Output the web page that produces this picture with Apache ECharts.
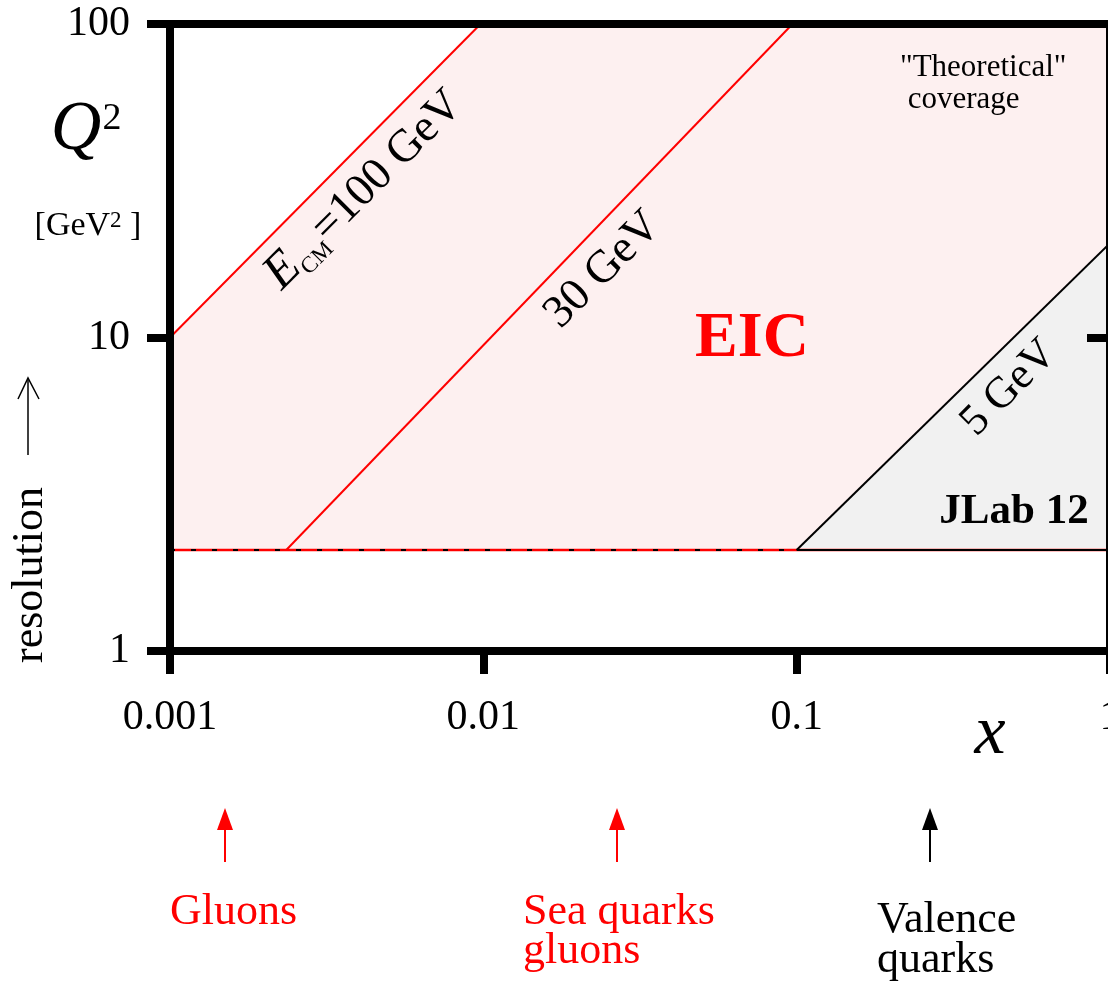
<!DOCTYPE html>
<html>
<head>
<meta charset="utf-8">
<title>EIC kinematic coverage</title>
<script src="https://cdn.jsdelivr.net/npm/echarts@6/dist/echarts.min.js"></script>
<style>
html, body { margin: 0; padding: 0; background: #fff; }
#chart { width: 1108px; height: 981px; }
</style>
</head>
<body>
<div id="chart"></div>
<script>
// tick labels
var xTickLabels = ['0.001', '0.01', '0.1', '1'];
var yTickLabels = ['1', '10', '100'];

// lower Q^2 cut line
var cutX = [0.001, 1];
var cutQ2 = [2.1, 2.1];

// E_CM = 100 GeV
var line100X = [0.001, 0.0098];
var line100Q2 = [10, 100];
// 30 GeV
var line30X = [0.00235, 0.097];
var line30Q2 = [2.1, 100];
// 5 GeV (JLab 12)
var line5X = [0.1, 1];
var line5Q2 = [2.1, 20];

var serif = 'Liberation Serif';

function pts(xs, ys) {
  return xs.map(function (x, i) { return [x, ys[i]]; });
}

// EIC region: above the cut, right of the 100 GeV line, above the 5 GeV line
var eicPoly = [[cutX[0], cutQ2[0]]]
  .concat(pts(line100X, line100Q2), [[cutX[1], 100]], pts(line5X, line5Q2).reverse());
// JLab region: below the 5 GeV line
var jlabPoly = pts(line5X, line5Q2).concat([[cutX[1], cutQ2[1]]]);

function polySeries(poly, color) {
  return {
    type: 'custom',
    coordinateSystem: 'cartesian2d',
    data: [poly[0]],
    silent: true,
    z: 1,
    renderItem: function (params, api) {
      return {
        type: 'polygon',
        shape: { points: poly.map(function (p) { return api.coord(p); }) },
        style: { fill: color }
      };
    }
  };
}

function lineSeries(data, color, width, dash) {
  return {
    type: 'line',
    data: data,
    symbol: 'none',
    silent: true,
    z: 3,
    lineStyle: { color: color, width: width, type: dash || 'solid' }
  };
}

function txt(x, y, text, size, opts) {
  opts = opts || {};
  return {
    type: 'text',
    x: x, y: y,
    rotation: opts.rot || 0,
    z: 20,
    style: {
      text: text,
      fontFamily: serif,
      fontSize: size,
      fontStyle: opts.italic ? 'italic' : 'normal',
      fontWeight: opts.bold ? 'bold' : 'normal',
      fill: opts.color || '#000',
      lineHeight: opts.lh,
      align: opts.align || 'center',
      verticalAlign: opts.va || 'middle',
      rich: opts.rich
    }
  };
}

function upArrow(x, color) {
  return [
    { type: 'line', z: 20, shape: { x1: x, y1: 826, x2: x, y2: 862 },
      style: { stroke: color, lineWidth: 2 } },
    { type: 'polygon', z: 20, shape: { points: [[x, 808], [x - 8, 830], [x + 8, 830]] },
      style: { fill: color } }
  ];
}

var axisBase = {
  type: 'log',
  logBase: 10,
  z: 10,
  splitLine: { show: false },
  minorTick: { show: false },
  axisLine: { onZero: false, lineStyle: { color: '#000', width: 8 } }
};

var chart = echarts.init(document.getElementById('chart'));

var option = {
  animation: false,
  grid: { left: 170, top: 24, width: 940, height: 627, containLabel: false, outerBoundsMode: 'none' },
  xAxis: [
    Object.assign({}, axisBase, {
      min: 0.001, max: 1, position: 'bottom',
      axisTick: { length: 23, lineStyle: { color: '#000', width: 8 } },
      axisLabel: {
        margin: 67, verticalAlign: 'middle',
        fontFamily: serif, fontSize: 42, color: '#000',
        formatter: function (v) { return xTickLabels[Math.round(Math.log10(v)) + 3]; }
      }
    }),
    Object.assign({}, axisBase, {
      min: 0.001, max: 1, position: 'top',
      axisTick: { show: false }, axisLabel: { show: false }
    })
  ],
  yAxis: [
    Object.assign({}, axisBase, {
      min: 1, max: 100, position: 'left',
      axisTick: { length: 23, lineStyle: { color: '#000', width: 8 } },
      axisLabel: {
        margin: 40,
        fontFamily: serif, fontSize: 42, color: '#000',
        formatter: function (v) { return yTickLabels[Math.round(Math.log10(v))]; }
      }
    }),
    Object.assign({}, axisBase, {
      min: 1, max: 100, position: 'right',
      axisTick: { inside: true, length: 23, lineStyle: { color: '#000', width: 8 } },
      axisLabel: { show: false }
    })
  ],
  series: [
    polySeries(eicPoly, '#fdf0f0'),
    polySeries(jlabPoly, '#f1f1f1'),
    lineSeries(pts(cutX, cutQ2), '#ff0000', 2.5),
    lineSeries(pts([cutX[0], line5X[0]], cutQ2), '#000', 2, [5, 16]),
    lineSeries(pts([line5X[0], cutX[1]], cutQ2), '#000', 2),
    lineSeries(pts(line100X, line100Q2), '#ff0000', 2),
    lineSeries(pts(line30X, line30Q2), '#ff0000', 2),
    lineSeries(pts(line5X, line5Q2), '#000', 2)
  ],
  graphic: [
    // axis titles
    txt(76, 131, 'Q', 70, { italic: true }),
    txt(112, 119, '2', 38),
    txt(88, 226, '[GeV{s|2} ]', 34, { rich: { s: { fontFamily: serif, fontSize: 23, verticalAlign: 'top', lineHeight: 26 } } }),
    txt(30, 575, 'resolution', 44, { rot: Math.PI / 2 }),
    { type: 'line', z: 20, shape: { x1: 28, y1: 380, x2: 28, y2: 455 }, style: { stroke: '#000', lineWidth: 1.5 } },
    { type: 'polyline', z: 20, shape: { points: [[18, 399], [28, 378], [39, 399]] }, style: { stroke: '#000', lineWidth: 1.5, fill: null } },
    txt(990, 735, 'x', 70, { italic: true }),

    // line labels
    txt(364, 190, '{e|E}{c|CM}{n|=100 GeV}', 46, {
      rot: Math.PI / 4,
      rich: {
        e: { fontFamily: serif, fontSize: 50, fontStyle: 'italic', lineHeight: 54 },
        c: { fontFamily: serif, fontSize: 23, lineHeight: 24, verticalAlign: 'bottom' },
        n: { fontFamily: serif, fontSize: 46, lineHeight: 54 }
      }
    }),
    txt(603, 270, '30 GeV', 46, { rot: Math.PI / 4 }),
    txt(1009, 388, '5 GeV', 44, { rot: Math.PI / 4 }),
    txt(752, 339, 'EIC', 64, { bold: true, color: '#ff0000' }),
    txt(1014, 512, 'JLab 12', 43, { bold: true }),
    txt(900, 52, '"Theoretical"\n coverage', 31, { align: 'left', va: 'top', lh: 32 }),

    // bottom arrows and labels
    txt(170, 912, 'Gluons', 44, { align: 'left', color: '#ff0000' }),
    txt(523, 893, 'Sea quarks\ngluons', 44, { align: 'left', va: 'top', lh: 39, color: '#ff0000' }),
    txt(877, 900, 'Valence\nquarks', 44, { align: 'left', va: 'top', lh: 40 })
  ].concat(upArrow(225, '#ff0000'), upArrow(617, '#ff0000'), upArrow(930, '#000'))
};

chart.setOption(option);
</script>
</body>
</html>
